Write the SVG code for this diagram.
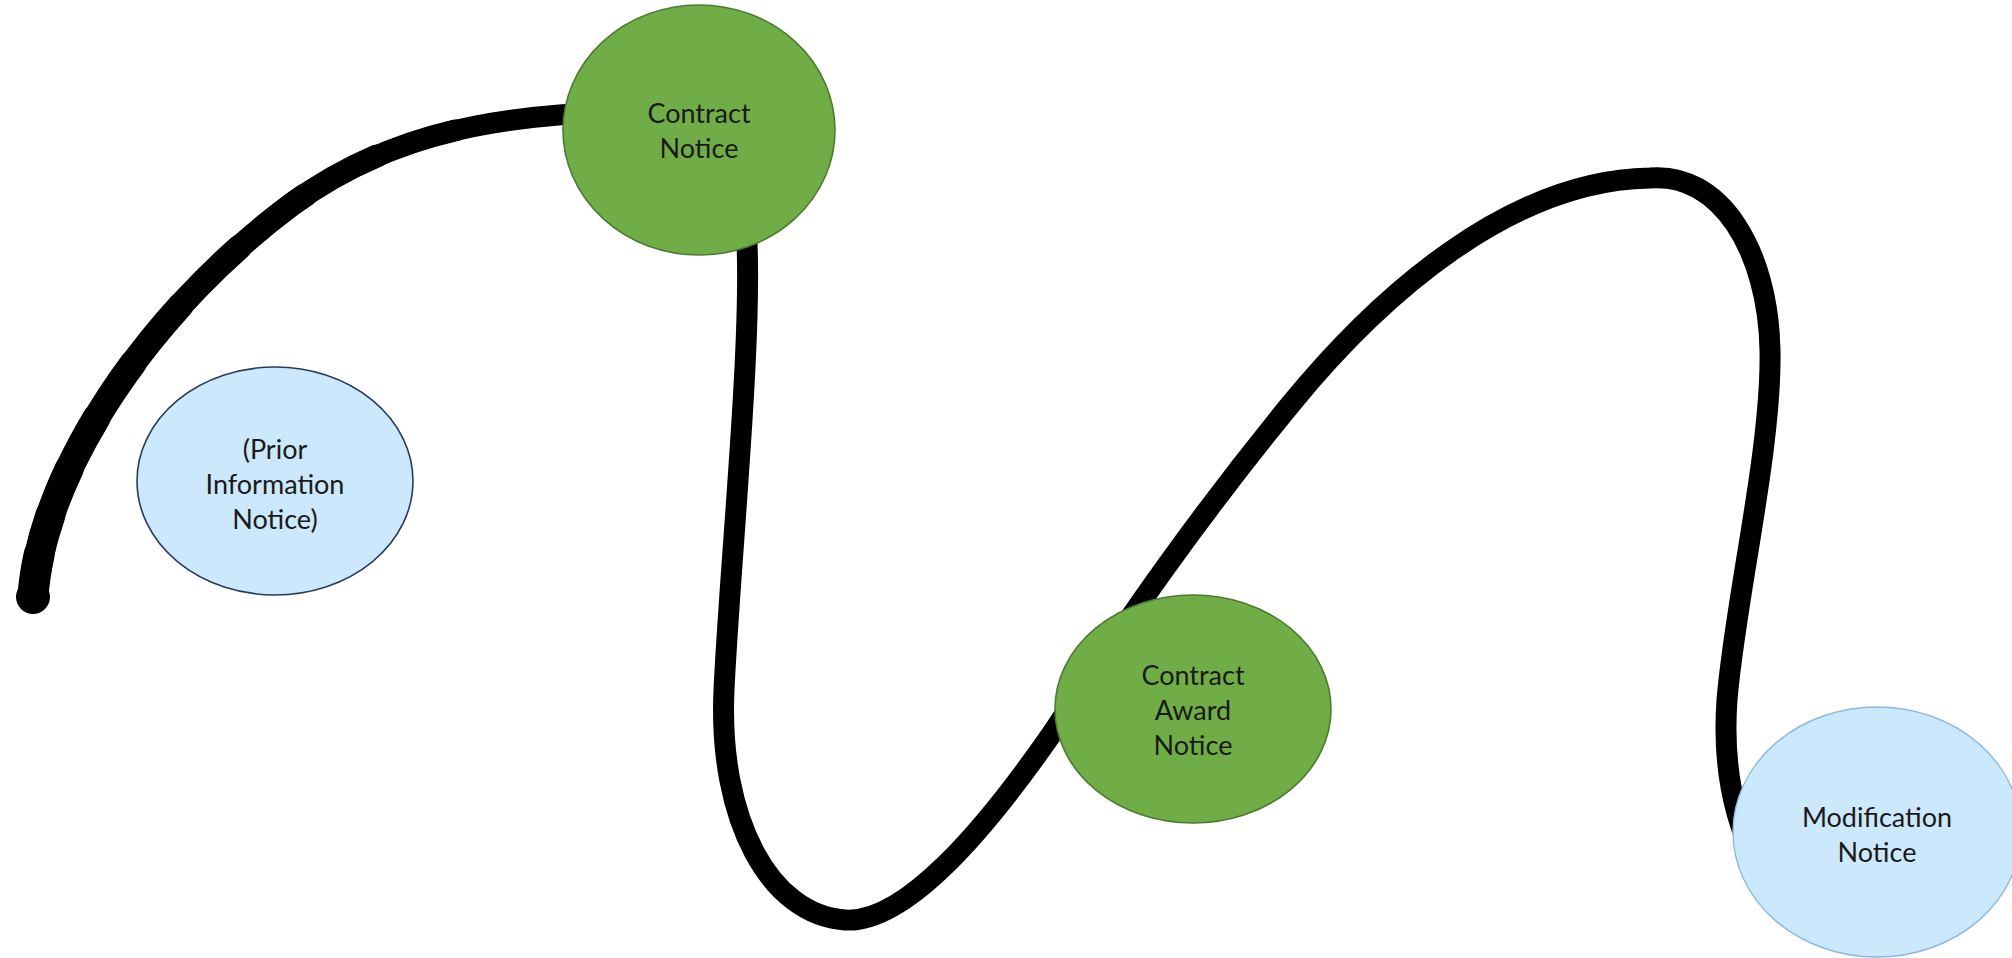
<svg xmlns="http://www.w3.org/2000/svg" width="2012" height="958" viewBox="0 0 2012 958">
<style>
.line{fill:none;stroke:#000;stroke-linecap:round;stroke-linejoin:round}
.green{fill:#70AD47;stroke:#4E7A30;stroke-width:1.6}
.blue1{fill:#CCE8FC;stroke:#2A3B5A;stroke-width:1.6}
.blue2{fill:#CCE8FC;stroke:#8DB8E2;stroke-width:1.4}
.lbl{font-family:Lato,"Liberation Sans",sans-serif;font-size:27px;fill:#1a1a1a;text-anchor:middle}
</style>
<defs>
<path id="arcA" pathLength="100" d="M33,596 C42,470 150,310 291,205 C380,140 480,115 620,112"/>
</defs>
<rect width="2012" height="958" fill="#fff"/>
<g id="connectors">
<use href="#arcA" class="line" stroke-width="21"/>
<use href="#arcA" class="line" stroke-width="22" stroke-dasharray="80 1000"/>
<use href="#arcA" class="line" stroke-width="23" stroke-dasharray="70 1000"/>
<use href="#arcA" class="line" stroke-width="24" stroke-dasharray="60 1000"/>
<use href="#arcA" class="line" stroke-width="25" stroke-dasharray="50 1000"/>
<use href="#arcA" class="line" stroke-width="26" stroke-dasharray="40 1000"/>
<use href="#arcA" class="line" stroke-width="27" stroke-dasharray="31 1000"/>
<use href="#arcA" class="line" stroke-width="28" stroke-dasharray="23 1000"/>
<use href="#arcA" class="line" stroke-width="29" stroke-dasharray="16 1000"/>
<use href="#arcA" class="line" stroke-width="30" stroke-dasharray="10 1000"/>
<use href="#arcA" class="line" stroke-width="31" stroke-dasharray="5 1000"/>
<circle cx="33" cy="597" r="17" fill="#000"/>
<path class="line" stroke-width="21" d="M746,225 C754,330 730,560 724,690 C718,820 770,915 845,920 C905,924 985,830 1053,732 C1130,615 1200,515 1290,405 C1380,295 1510,180 1650,178 C1720,172 1768,250 1770,350 C1772,450 1735,600 1727,700 C1722,770 1735,820 1755,860"/>
</g>
<g id="node-contract-notice">
<ellipse class="green" cx="699" cy="130" rx="136" ry="125"/>
<text class="lbl" x="699" y="123">Contract</text>
<text class="lbl" x="699" y="158">Notice</text>
</g>
<g id="node-prior-information-notice">
<ellipse class="blue1" cx="275" cy="481" rx="138" ry="114"/>
<text class="lbl" x="275" y="459">(Prior</text>
<text class="lbl" x="275" y="494">Information</text>
<text class="lbl" x="275" y="529">Notice)</text>
</g>
<g id="node-contract-award-notice">
<ellipse class="green" cx="1193" cy="709" rx="138" ry="114"/>
<text class="lbl" x="1193" y="685">Contract</text>
<text class="lbl" x="1193" y="720">Award</text>
<text class="lbl" x="1193" y="755">Notice</text>
</g>
<g id="node-modification-notice">
<ellipse class="blue2" cx="1877" cy="832" rx="144" ry="125"/>
<text class="lbl" x="1877" y="827">Modification</text>
<text class="lbl" x="1877" y="862">Notice</text>
</g>
</svg>
